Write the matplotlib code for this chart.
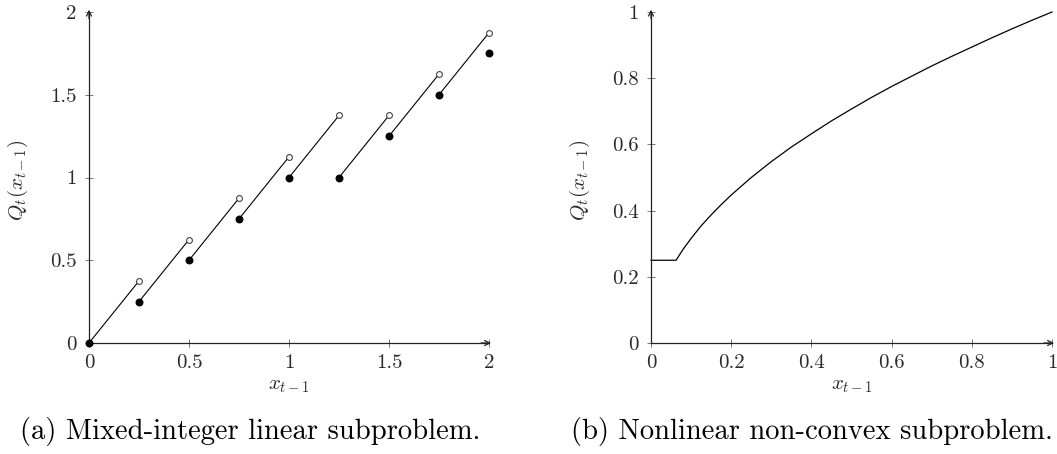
import matplotlib
matplotlib.use("Agg")
import matplotlib.pyplot as plt

plt.rcParams["font.family"] = "serif"
plt.rcParams["font.serif"] = ["cmr10", "DejaVu Serif"]
plt.rcParams["mathtext.fontset"] = "cm"
plt.rcParams["axes.formatter.use_mathtext"] = True

# (a) piecewise linear segments: start (filled) and end (open)
seg_x0 = [0.0, 0.25, 0.5, 0.75, 1.0, 1.25, 1.5, 1.75]
seg_y0 = [0.0, 0.25, 0.5, 0.75, 1.0, 1.0, 1.25, 1.5]
seg_x1 = [0.25, 0.5, 0.75, 1.0, 1.25, 1.5, 1.75, 2.0]
seg_y1 = [0.375, 0.625, 0.875, 1.125, 1.375, 1.375, 1.625, 1.875]
extra_x = [2.0]
extra_y = [1.75]

a_xticks = [0, 0.5, 1, 1.5, 2]
a_xlabels = ["0", "0.5", "1", "1.5", "2"]
a_yticks = [0, 0.5, 1, 1.5, 2]
a_ylabels = ["0", "0.5", "1", "1.5", "2"]

# (b) nonlinear curve
curve_x = [0.0, 0.0625, 0.08, 0.1, 0.125, 0.15, 0.175, 0.2, 0.25, 0.3, 0.35,
           0.4, 0.45, 0.5, 0.55, 0.6, 0.65, 0.7, 0.75, 0.8, 0.85, 0.9, 0.95, 1.0]
curve_y = [0.25, 0.25, 0.283, 0.316, 0.354, 0.387, 0.418, 0.447, 0.5, 0.548,
           0.592, 0.632, 0.671, 0.707, 0.742, 0.775, 0.806, 0.837, 0.866,
           0.894, 0.922, 0.949, 0.975, 1.0]

b_xticks = [0, 0.2, 0.4, 0.6, 0.8, 1]
b_xlabels = ["0", "0.2", "0.4", "0.6", "0.8", "1"]
b_yticks = [0, 0.2, 0.4, 0.6, 0.8, 1]
b_ylabels = ["0", "0.2", "0.4", "0.6", "0.8", "1"]

captions = ["(a) Mixed-integer linear subproblem.",
            "(b) Nonlinear non-convex subproblem."]

W, H = 1057, 454
fig = plt.figure(figsize=(W / 100, H / 100), dpi=100)

ax_a = fig.add_axes([89 / W, (H - 343) / H, 400 / W, 331 / H])
ax_b = fig.add_axes([651 / W, (H - 343) / H, 401 / W, 331 / H])

TICK_FS = 15
LABEL_FS = 15


def style_axis(ax, xmax, ymax, xt, xl, yt, yl):
    ax.set_xlim(0, xmax)
    ax.set_ylim(0, ymax)
    for s in ["top", "right"]:
        ax.spines[s].set_visible(False)
    for s in ["left", "bottom"]:
        ax.spines[s].set_color("#222222")
        ax.spines[s].set_linewidth(0.9)
    ax.set_xticks(xt)
    ax.set_xticklabels(xl)
    ax.set_yticks(yt)
    ax.set_yticklabels(yl)
    ax.tick_params(direction="inout", length=6, width=0.7, color="#777777",
                   labelsize=TICK_FS, labelcolor="#2a2a2a")
    ax.tick_params(axis="x", pad=5)
    ax.tick_params(axis="y", pad=6)
    # arrow tips at the ends of the axis lines
    ax.annotate("", xy=(1.005, 0), xytext=(0.98, 0), xycoords="axes fraction",
                arrowprops=dict(arrowstyle="->", color="#222222", lw=0.9,
                                mutation_scale=9, shrinkA=0, shrinkB=0))
    ax.annotate("", xy=(0, 1.007), xytext=(0, 0.98), xycoords="axes fraction",
                arrowprops=dict(arrowstyle="->", color="#222222", lw=0.9,
                                mutation_scale=9, shrinkA=0, shrinkB=0))
    xlab = ax.set_xlabel(r"$x_{t-1}$", fontsize=LABEL_FS, color="#2a2a2a")
    xlab.set_va("center")
    ax.xaxis.set_label_coords(0.5, -0.13)
    ylab = ax.set_ylabel(r"$Q_t(x_{t-1})$", fontsize=LABEL_FS, color="#2a2a2a")
    ylab.set_va("center")
    ax.yaxis.set_label_coords(-0.178, 0.49)


style_axis(ax_a, 2, 2, a_xticks, a_xlabels, a_yticks, a_ylabels)
style_axis(ax_b, 1, 1, b_xticks, b_xlabels, b_yticks, b_ylabels)

for x0, y0, x1, y1 in zip(seg_x0, seg_y0, seg_x1, seg_y1):
    ax_a.plot([x0, x1], [y0, y1], color="black", lw=0.8, zorder=3, clip_on=False)
    ax_a.plot([x0], [y0], "o", color="black", ms=4.7, zorder=4, clip_on=False)
    ax_a.plot([x1], [y1], "o", mfc="white", mec="#444444", mew=0.8, ms=4.2,
              zorder=4, clip_on=False)
ax_a.plot(extra_x, extra_y, "o", color="black", ms=4.7, zorder=4, clip_on=False)

ax_b.plot(curve_x, curve_y, color="black", lw=0.9, clip_on=False)

fig.text(250 / W, 1 - 432 / H, captions[0], ha="center", va="center", fontsize=20.6)
fig.text(812 / W, 1 - 432 / H, captions[1], ha="center", va="center", fontsize=20.6)

fig.savefig("out.png", dpi=100)
